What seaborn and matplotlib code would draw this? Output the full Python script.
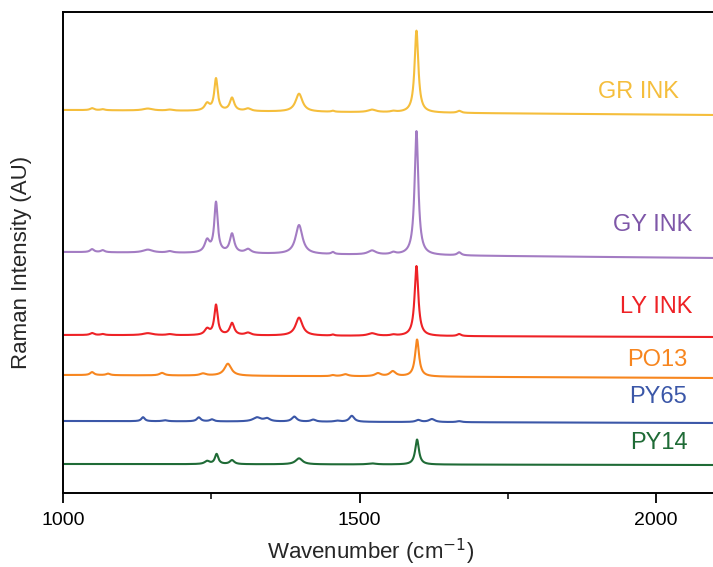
import numpy as np
import pandas as pd
import matplotlib
matplotlib.use("Agg")
import matplotlib.pyplot as plt
from matplotlib.ticker import MultipleLocator
import seaborn as sns

# muestras, de arriba hacia abajo
samples = ["GR INK", "GY INK", "LY INK", "PO13", "PY65", "PY14"]
line_colors = ["#F5BE3C", "#A37CC3", "#EE2226", "#F7861F", "#3B57A8", "#1F6B36"]
text_colors = ["#F5BE3C", "#7E57A8", "#EE2226", "#F7861F", "#3B57A8", "#1F6B36"]

# linea base (inicio, final) de cada espectro apilado
base_start = [383, 241, 158, 118, 72, 29]
base_end = [378, 235, 156, 115, 70, 28]

# picos: (centro cm-1, altura, semi-ancho)
peaks_gr = [(1049, 2, 4), (1067, 1, 4), (1143, 2, 10), (1180, 1, 6), (1243, 7, 5),
            (1258, 32, 3.5), (1285, 13, 4.5), (1312, 2.5, 6), (1398, 18, 7),
            (1455, 1, 3), (1521, 2.5, 8), (1557, 1, 5), (1596, 82, 3.8), (1668, 2, 4)]
peaks_gy = [(1049, 3, 4), (1067, 2, 4), (1143, 3, 10), (1180, 1.5, 6), (1243, 12, 5),
            (1258, 50, 3.5), (1285, 19, 4.5), (1312, 4, 6), (1398, 29, 7),
            (1455, 2, 3), (1521, 4, 8), (1557, 2, 5), (1596, 124, 3.8), (1668, 3, 4)]
peaks_ly = [(1049, 2, 4), (1067, 1, 4), (1143, 2, 10), (1180, 1, 6), (1243, 6, 5),
            (1258, 30, 3.5), (1285, 12, 4.5), (1312, 2.5, 6), (1398, 18, 7),
            (1455, 1, 3), (1521, 2.5, 8), (1557, 1, 5), (1596, 70, 3.8), (1668, 2, 4)]
peaks_po = [(1049, 3, 4), (1076, 1.5, 4), (1167, 2.5, 5), (1236, 2, 6), (1278, 12, 7),
            (1455, 1, 4), (1476, 2, 6), (1531, 3, 6), (1556, 5, 6), (1597, 37, 4)]
peaks_py65 = [(1135, 4, 3.5), (1172, 1, 5), (1229, 4, 4), (1251, 2, 4), (1327, 4, 8),
              (1344, 3, 6), (1390, 5, 5), (1422, 2, 5), (1462, 1, 5), (1487, 6, 5),
              (1599, 2, 5), (1622, 3, 6), (1668, 1, 5)]
peaks_py14 = [(1243, 3, 5), (1259, 10, 3.5), (1285, 4, 4.5), (1398, 6, 7),
              (1521, 1, 8), (1597, 25, 3.8)]
all_peaks = [peaks_gr, peaks_gy, peaks_ly, peaks_po, peaks_py65, peaks_py14]

# posiciones de las etiquetas (x del borde derecho, y del centro)
label_x = [2039, 2061, 2061, 2052, 2052, 2054]
label_y = [401, 268, 186, 133, 96, 50]

wn = np.linspace(1000, 2100, 2201)

frames = []
for name, p, b0, b1 in zip(samples, all_peaks, base_start, base_end):
    y = b0 + (b1 - b0) * (wn - wn[0]) / (wn[-1] - wn[0])
    for c, h, w in p:
        y = y + h * w**2 / ((wn - c)**2 + w**2)
    frames.append(pd.DataFrame({"wavenumber": wn, "intensity": y, "sample": name}))
df = pd.concat(frames, ignore_index=True)

sns.set_style("ticks")
plt.rcParams["font.family"] = ["Liberation Sans", "DejaVu Sans"]

fig = plt.figure(figsize=(7.13, 5.67), dpi=100)
ax = fig.add_axes([63 / 713, 1 - 493 / 567, 1 - 63 / 713, (493 - 12) / 567])

sns.lineplot(data=df, x="wavenumber", y="intensity", hue="sample",
             palette=dict(zip(samples, line_colors)), estimator=None,
             linewidth=1.5, legend=False, ax=ax)

for name, col, lx, ly in zip(samples, text_colors, label_x, label_y):
    ax.text(lx, ly, name, color=col, fontsize=17, ha="right", va="center")

ax.set_xlim(1000, 2096)
ax.set_ylim(0, 481)
ax.set_yticks([])
ax.xaxis.set_major_locator(MultipleLocator(500))
ax.xaxis.set_minor_locator(MultipleLocator(250))
ax.tick_params(axis="x", which="major", direction="out", length=7, width=1.3,
               labelsize=14, pad=7, colors="black")
ax.tick_params(axis="x", which="minor", direction="out", length=4, width=1.3)

for s in ["left", "top", "bottom"]:
    ax.spines[s].set_visible(True)
    ax.spines[s].set_linewidth(1.4)
    ax.spines[s].set_color("black")
ax.spines["right"].set_visible(False)

ax.set_xlabel("Wavenumber (cm$^{-1}$)", fontsize=16)
ax.set_ylabel("Raman Intensity (AU)", fontsize=16)
ax.xaxis.set_label_coords((371 - 63) / 650, -0.092)
ax.yaxis.set_label_coords(-0.047, 0.48)

plt.savefig("out.png", dpi=100)
